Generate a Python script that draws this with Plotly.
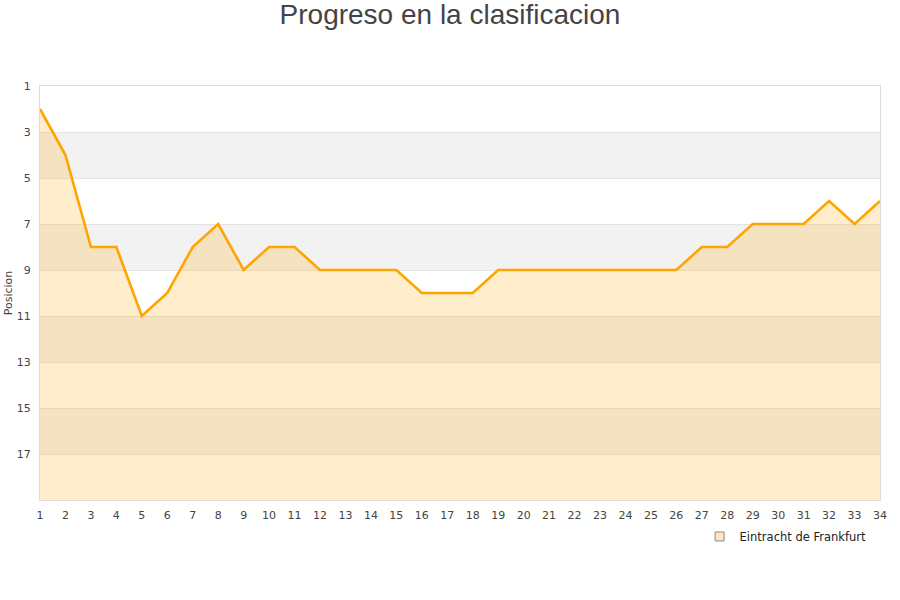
import plotly.graph_objects as go

jornadas = list(range(1, 35))
posiciones = [2, 4, 8, 8, 11, 10, 8, 7, 9, 8, 8, 9, 9, 9, 9, 10, 10, 10, 9, 9,
              9, 9, 9, 9, 9, 9, 8, 8, 7, 7, 7, 6, 7, 6]
equipo = "Eintracht de Frankfurt"
y_ticks = [1, 3, 5, 7, 9, 11, 13, 15, 17]
y_min, y_max = 1, 19

fig = go.Figure()

# baseline for the area fill
fig.add_trace(go.Scatter(x=jornadas, y=[y_max] * len(jornadas), mode="lines",
                         line=dict(width=0, color="rgba(0,0,0,0)"),
                         showlegend=False, hoverinfo="skip"))
fig.add_trace(go.Scatter(x=jornadas, y=posiciones, mode="lines",
                         line=dict(color="#ffa500", width=2.6),
                         fill="tonexty", fillcolor="rgba(255,165,0,0.2)",
                         showlegend=False, name=equipo))
# legend entry
fig.add_trace(go.Scatter(x=[None], y=[None], mode="markers", name=equipo,
                         marker=dict(symbol="square", size=9, color="#fde6c0",
                                     line=dict(color="#8a8a8a", width=1))))

# alternating bands
shapes = []
for i, start in enumerate(range(y_min, y_max, 2)):
    if i % 2 == 1:
        shapes.append(dict(type="rect", xref="paper", yref="y", x0=0, x1=1,
                           y0=start, y1=start + 2, fillcolor="#f2f2f2",
                           line=dict(width=0), layer="below"))

fig.update_layout(
    width=900, height=600,
    paper_bgcolor="white", plot_bgcolor="white",
    margin=dict(l=40, r=20, t=86, b=100, autoexpand=False),
    title=dict(text="Progreso en la clasificacion", x=0.5, xanchor="center",
               y=0.992, yanchor="top",
               font=dict(family="Liberation Sans, Arial", size=28, color="#444")),
    shapes=shapes,
    showlegend=True,
    legend=dict(x=0.99, xanchor="right", y=-0.053, yanchor="top",
                font=dict(family="DejaVu Sans", size=11.5, color="#222"),
                bgcolor="rgba(0,0,0,0)", itemwidth=30),
    font=dict(family="DejaVu Sans", size=11, color="#444"),
)
fig.update_xaxes(range=[1, 34], tickvals=jornadas, showgrid=False, zeroline=False,
                 showline=True, linecolor="#dddddd", linewidth=1, mirror=True,
                 ticks="", ticklabelstandoff=5, automargin=False,
                 tickfont=dict(size=11, color="#444"))
fig.update_yaxes(range=[y_max, y_min], tickvals=y_ticks, showgrid=True,
                 gridcolor="#e3e3e3", gridwidth=1, zeroline=False,
                 showline=True, linecolor="#dddddd", linewidth=1, mirror=True,
                 ticks="", ticklabelstandoff=6, automargin=False,
                 title=dict(text="Posicion", font=dict(size=11, color="#444"), standoff=1),
                 tickfont=dict(size=11, color="#444"))

fig.write_html("out.html", config={"displayModeBar": False},
               post_script="document.body.style.margin='0';")
